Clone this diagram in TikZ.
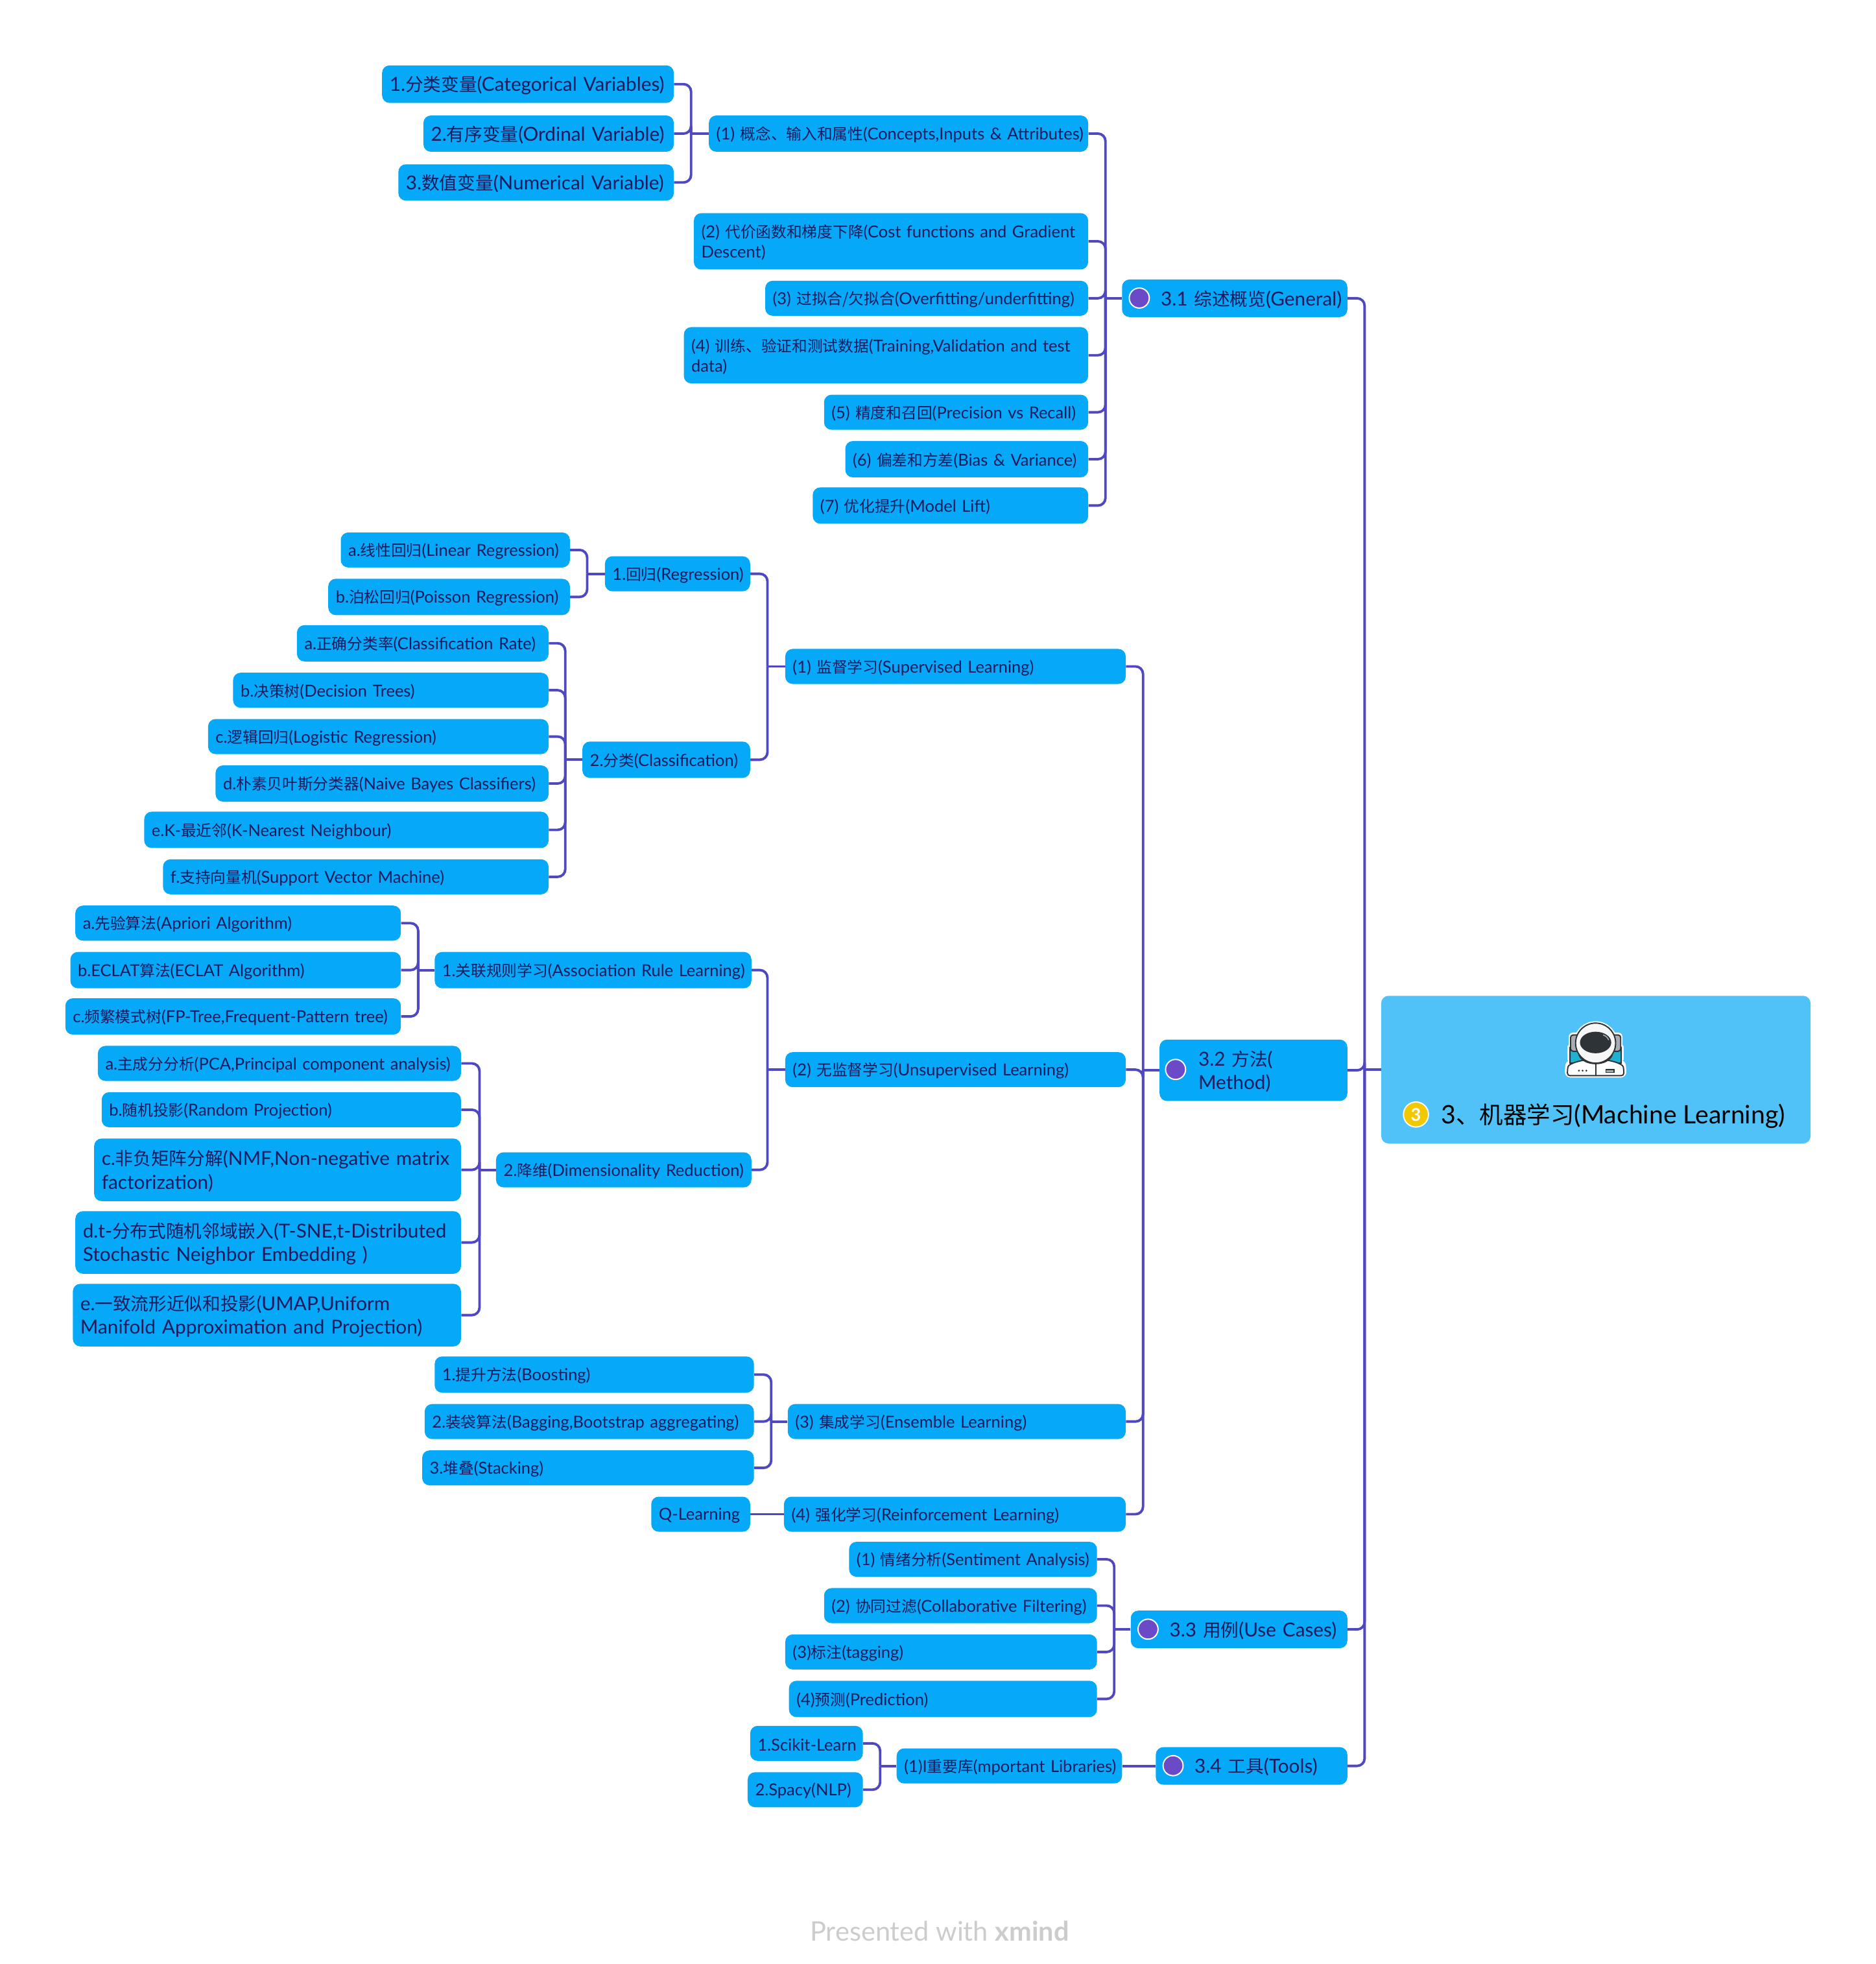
\documentclass[tikz,border=0pt]{standalone}
\usepackage{fontspec}
\setmainfont{Lato}
\newfontfamily\cjkf[Scale=0.93]{Noto Sans CJK SC}
\newcommand{\cj}[1]{{\cjkf #1}}
\definecolor{nodeblue}{HTML}{06A9F7}
\definecolor{rootblue}{HTML}{50C2F8}
\definecolor{ink}{HTML}{1F1A5E}
\definecolor{linecol}{HTML}{5048C0}
\definecolor{mark}{HTML}{6A4AC6}
\definecolor{badge}{HTML}{F2C800}
\definecolor{helm}{HTML}{2E3338}
\definecolor{teal}{HTML}{22B0CE}
\definecolor{greyb}{HTML}{A9ADB3}
\usetikzlibrary{calc}
\tikzset{
 box/.style={fill=nodeblue,rounded corners=6pt,text=ink,anchor=north west,inner xsep=6pt,inner ysep=0pt,align=left,font=\fontsize{13.2}{16}\selectfont},
 bigbox/.style={box,font=\fontsize{15.4}{19}\selectfont},
 conn/.style={draw=linecol,line width=2pt},
 markdot/.style={circle,fill=mark,draw=white,line width=1pt,inner sep=0pt,minimum size=16pt},
}
\newcommand{\bx}[7][box]{%
 \pgfmathsetmacro{\bw}{#5-#3}\pgfmathsetmacro{\bh}{#6-#4}\pgfmathsetmacro{\tw}{\bw-12}%
 \node[#1,minimum height=\bh pt,text width=\tw pt] (#2) at (#3,#4) {#7};}
\newcommand{\lin}[1]{\mbox{\raisebox{-1pt}[\height][\depth]{#1}}}
\newcommand{\cn}[3]{%
 \coordinate (J) at (#3pt,0 |- #2.west);
 \draw[conn,rounded corners=6pt] (#1.east) -| (J);
 \draw[conn] (#2.west) -- (J);}
\begin{document}
\begin{tikzpicture}[x=1pt,y=-1pt]
\useasboundingbox (0,0) rectangle (1498,1568.4);
\bx[bigbox]{a1}{305}{52}{538}{82}{\lin{1.\cj{分类变量}(Categorical Variables)}}
\bx[bigbox]{a2}{338}{92}{538}{121}{\lin{2.\cj{有序变量}(Ordinal Variable)}}
\bx[bigbox]{a3}{318}{131}{538}{160}{\lin{3.\cj{数值变量}(Numerical Variable)}}
\bx{b1}{566}{92}{869}{121}{\lin{(1) \cj{概念、输入和属性}(Concepts,Inputs \& Attributes)}}
\bx{b2}{554}{170}{869}{215}{\lin{(2) \cj{代价函数和梯度下降}(Cost functions and Gradient}\\\lin{Descent)}}
\bx{b3}{611}{224}{869}{252}{\lin{(3) \cj{过拟合/欠拟合}(Overfitting/underfitting)}}
\bx{b4}{546}{261}{869}{306}{\lin{(4) \cj{训练、验证和测试数据}(Training,Validation and test}\\\lin{data)}}
\bx{b5}{658}{315}{869}{343}{\lin{(5) \cj{精度和召回}(Precision vs Recall)}}
\bx{b6}{675}{352}{869}{381}{\lin{(6) \cj{偏差和方差}(Bias \& Variance)}}
\bx{b7}{649}{389}{869}{418}{\lin{(7) \cj{优化提升}(Model Lift)}}
\bx[bigbox]{g1}{896}{223}{1076}{253}{\hspace*{25pt}\lin{3.1 \cj{综述概览}(General)}}
\bx{r1}{272}{425}{455}{453}{\lin{a.\cj{线性回归}(Linear Regression)}}
\bx{r2}{262}{462}{455}{491}{\lin{b.\cj{泊松回归}(Poisson Regression)}}
\bx{r}{483}{444}{599}{472}{\lin{1.\cj{回归}(Regression)}}
\bx{c1}{237}{499}{438}{528}{\lin{a.\cj{正确分类率}(Classification Rate)}}
\bx{c2}{186}{537}{438}{565}{\lin{b.\cj{决策树}(Decision Trees)}}
\bx{c3}{166}{574}{438}{602}{\lin{c.\cj{逻辑回归}(Logistic Regression)}}
\bx{c4}{172}{611}{438}{640}{\lin{d.\cj{朴素贝叶斯分类器}(Naive Bayes Classifiers)}}
\bx{c5}{115}{648}{438}{677}{\lin{e.K-\cj{最近邻}(K-Nearest Neighbour)}}
\bx{c6}{130}{686}{438}{714}{\lin{f.\cj{支持向量机}(Support Vector Machine)}}
\bx{c}{465}{592}{599}{621}{\lin{2.\cj{分类}(Classification)}}
\bx{m1}{627}{518}{899}{546}{\lin{(1) \cj{监督学习}(Supervised Learning)}}
\bx{u1}{60}{723}{320}{751}{\lin{a.\cj{先验算法}(Apriori Algorithm)}}
\bx{u2}{56}{760}{320}{789}{\lin{b.ECLAT\cj{算法}(ECLAT Algorithm)}}
\bx{u3}{52}{797}{320}{826}{\lin{c.\cj{频繁模式树}(FP-Tree,Frequent-Pattern tree)}}
\bx{u}{347}{760}{600}{789}{\lin{1.\cj{关联规则学习}(Association Rule Learning)}}
\bx{d1}{78}{835}{368}{863}{\lin{a.\cj{主成分分析}(PCA,Principal component analysis)}}
\bx{d2}{81}{872}{368}{900}{\lin{b.\cj{随机投影}(Random Projection)}}
\bx[bigbox]{d3}{75}{909}{368}{959}{\lin{c.\cj{非负矩阵分解}(NMF,Non-negative matrix}\\\lin{factorization)}}
\bx[bigbox]{d4}{60}{967}{368}{1017}{\lin{d.t-\cj{分布式随机邻域嵌入}(T-SNE,t-Distributed}\\\lin{Stochastic Neighbor Embedding )}}
\bx[bigbox]{d5}{58}{1025}{368}{1075}{\lin{e.\cj{一致流形近似和投影}(UMAP,Uniform}\\\lin{Manifold Approximation and Projection)}}
\bx{d}{396}{920}{600}{948}{\lin{2.\cj{降维}(Dimensionality Reduction)}}
\bx{m2}{627}{840}{899}{868}{\lin{(2) \cj{无监督学习}(Unsupervised Learning)}}
\bx{e1}{347}{1083}{602}{1112}{\lin{1.\cj{提升方法}(Boosting)}}
\bx{e2}{339}{1121}{602}{1149}{\lin{2.\cj{装袋算法}(Bagging,Bootstrap aggregating)}}
\bx{e3}{337}{1158}{602}{1186}{\lin{3.\cj{堆叠}(Stacking)}}
\bx{m3}{629}{1121}{899}{1149}{\lin{(3) \cj{集成学习}(Ensemble Learning)}}
\bx{q}{520}{1195}{599}{1223}{\lin{Q-Learning}}
\bx{m4}{626}{1195}{899}{1223}{\lin{(4) \cj{强化学习}(Reinforcement Learning)}}
\bx[bigbox]{g2}{926}{830}{1076}{879}{\hspace*{25pt}\lin{3.2 \cj{方法}(}\\\hspace*{25pt}\lin{Method)}}
\bx{s1}{678}{1231}{876}{1259}{\lin{(1) \cj{情绪分析}(Sentiment Analysis)}}
\bx{s2}{658}{1268}{876}{1296}{\lin{(2) \cj{协同过滤}(Collaborative Filtering)}}
\bx{s3}{627}{1305}{876}{1333}{\lin{(3)\cj{标注}(tagging)}}
\bx{s4}{630}{1342}{876}{1371}{\lin{(4)\cj{预测}(Prediction)}}
\bx[bigbox]{g3}{903}{1286}{1076}{1316}{\hspace*{25pt}\lin{3.3 \cj{用例}(Use Cases)}}
\bx{t1}{599}{1378}{689}{1406}{\lin{1.Scikit-Learn}}
\bx{t2}{597}{1415}{689}{1443}{\lin{2.Spacy(NLP)}}
\bx{t}{716}{1396}{896}{1424}{\lin{(1)I\cj{重要库}(mportant Libraries)}}
\bx[bigbox]{g4}{923}{1395}{1076}{1425}{\hspace*{25pt}\lin{3.4 \cj{工具}(Tools)}}
\node[fill=rootblue,rounded corners=6pt,anchor=north west,minimum width=343pt,minimum height=118pt,inner sep=0pt] (root) at (1103,795) {};
\node[anchor=west,inner sep=0pt,text=black,font=\fontsize{20.3}{24}\selectfont] (roott) at (1151,891) {3\cj{、机器学习}(Machine Learning)};
\node[circle,fill=badge,draw=white,line width=1pt,minimum size=20pt,inner sep=0pt,text=white,font=\bfseries\fontsize{14}{14}\selectfont] (bdg) at (1131,890) {3};
\node[markdot] (k1) at (910,238) {};
\node[markdot] (k2) at (939,854) {};
\node[markdot] (k3) at (917,1301) {};
\node[markdot] (k4) at (937,1410) {};
\foreach \c in {g1,g2,g3,g4}{\cn{\c}{root}{1090}}
\foreach \c in {b1,b2,b3,b4,b5,b6,b7}{\cn{\c}{g1}{883}}
\foreach \c in {a1,a2,a3}{\cn{\c}{b1}{552}}
\foreach \c in {m1,m2,m3,m4}{\cn{\c}{g2}{913}}
\foreach \c in {r,c}{\cn{\c}{m1}{613}}
\foreach \c in {r1,r2}{\cn{\c}{r}{469}}
\foreach \c in {c1,c2,c3,c4,c5,c6}{\cn{\c}{c}{451.5}}
\foreach \c in {u,d}{\cn{\c}{m2}{613}}
\foreach \c in {u1,u2,u3}{\cn{\c}{u}{334}}
\foreach \c in {d1,d2,d3,d4,d5}{\cn{\c}{d}{383}}
\foreach \c in {e1,e2,e3}{\cn{\c}{m3}{616}}
\draw[conn] (q.east) -- (m4.west);
\foreach \c in {s1,s2,s3,s4}{\cn{\c}{g3}{890}}
\foreach \c in {t1,t2}{\cn{\c}{t}{703}}
\draw[conn] (t.east) -- (g4.west);
\begin{scope}[shift={(1274.5,833)}]
 \begin{scope}[white,line width=3pt,line join=round]
 \filldraw (0,0) circle (16);
 \filldraw[rounded corners=2pt] (-20,-7) rectangle (20,7);
 \filldraw (-21,13) -- (-21,3) -- (21,3) -- (21,13) -- cycle;
 \filldraw[rounded corners=3pt] (-23,26) -- (-23,20) .. controls (-22,14) and (-10,12) .. (0,12) .. controls (10,12) and (22,14) .. (23,20) -- (23,26) -- cycle;
 \end{scope}
 \filldraw[fill=teal,draw=helm,line width=1pt] (-20.5,16) -- (-20.5,3.5) -- (-18,1) -- (18,1) -- (20.5,3.5) -- (20.5,16) -- cycle;
 \filldraw[fill=greyb,draw=helm,line width=1pt,rounded corners=2pt] (-20,-6.5) rectangle (20,6.5);
 \filldraw[fill=white,draw=helm,line width=1pt,rounded corners=2pt] (-22.5,26) -- (-22.5,21) .. controls (-21.5,16) and (-10,13) .. (0,13) .. controls (10,13) and (21.5,16) .. (22.5,21) -- (22.5,26) -- cycle;
 \draw[helm,line width=1pt] (0,16) -- (0,26);
 \filldraw[fill=greyb,draw=helm,line width=1pt] (-13,10) .. controls (-9,18.5) and (9,18.5) .. (13,10) -- cycle;
 \filldraw[fill=white!97!black,draw=helm,line width=1pt] (0,0) circle (16);
 \fill[helm] (0,-.5) ellipse (12.5 and 8.6);
 \draw[greyb,line width=.8pt] (6,-6.5) .. controls (8,-6) and (9.5,-4.5) .. (10.5,-2.5);
 \fill[helm] (-13.3,22) circle (.8) (-10.4,22) circle (.8) (-7.4,22) circle (.8);
 \filldraw[fill=greyb,draw=helm,line width=.8pt] (8.3,21) rectangle (14.7,23.4);
\end{scope}
\node[anchor=center,inner sep=0pt,text=black!20,font=\fontsize{21.5}{24}\selectfont] (foot) at (750.5,1542) {Presented with \textbf{xmind}};
\end{tikzpicture}
\end{document}
